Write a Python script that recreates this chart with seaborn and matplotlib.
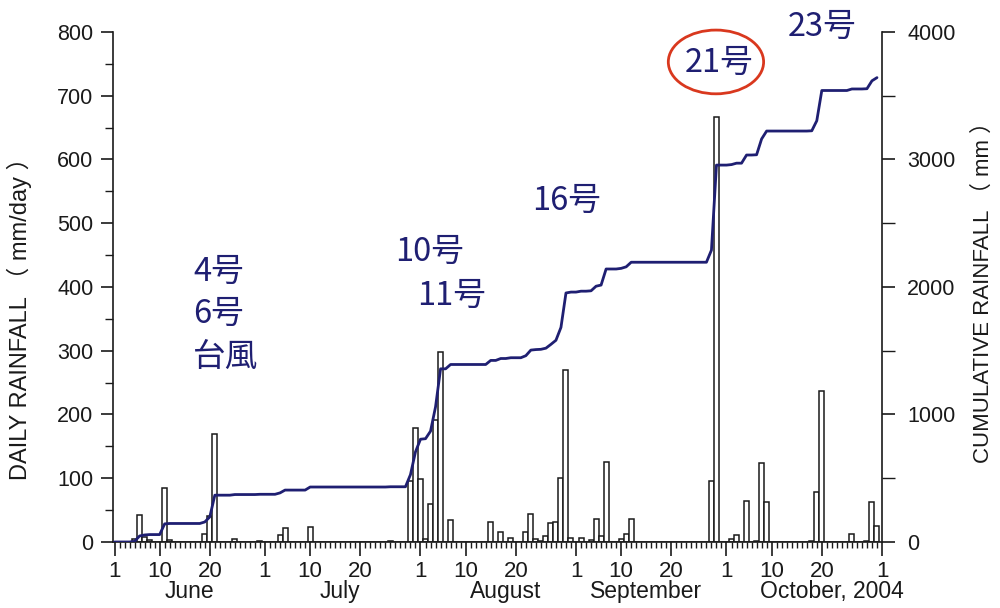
import numpy as np
import pandas as pd
import matplotlib
matplotlib.use("Agg")
import matplotlib.pyplot as plt
import matplotlib.transforms as mtransforms
from matplotlib.patches import Ellipse
from matplotlib.ticker import FixedLocator, MultipleLocator
import seaborn as sns

# Daily rainfall, June - October 2004 (days not listed had no rain), mm/day
rain_dates = [
    "2004-06-05", "2004-06-06", "2004-06-07", "2004-06-08", "2004-06-11", "2004-06-12",
    "2004-06-19", "2004-06-20", "2004-06-21", "2004-06-25", "2004-06-30",
    "2004-07-04", "2004-07-05", "2004-07-10", "2004-07-26", "2004-07-30", "2004-07-31",
    "2004-08-01", "2004-08-02", "2004-08-03", "2004-08-04", "2004-08-05", "2004-08-07",
    "2004-08-15", "2004-08-17", "2004-08-19", "2004-08-22", "2004-08-23", "2004-08-24",
    "2004-08-25", "2004-08-26", "2004-08-27", "2004-08-28", "2004-08-29", "2004-08-30",
    "2004-08-31", "2004-09-02", "2004-09-04", "2004-09-05", "2004-09-06", "2004-09-07",
    "2004-09-10", "2004-09-11", "2004-09-12", "2004-09-28", "2004-09-29",
    "2004-10-02", "2004-10-03", "2004-10-05", "2004-10-07", "2004-10-08", "2004-10-09",
    "2004-10-18", "2004-10-19", "2004-10-20", "2004-10-26", "2004-10-29", "2004-10-30",
    "2004-10-31",
]
rain_mm = [
    5, 42, 8, 3, 84, 3,
    12, 40, 170, 5, 2,
    11, 22, 24, 2, 95, 179,
    99, 4, 59, 191, 298, 34,
    32, 15, 6, 16, 44, 4,
    2, 9, 30, 32, 101, 270,
    7, 7, 3, 36, 9, 126,
    5, 12, 36, 95, 667,
    4, 11, 64, 2, 124, 62,
    2, 79, 237, 12, 2, 62,
    25,
]

period_start = "2004-06-01"
period_end = "2004-10-31"

tick_dates = [
    "2004-06-01", "2004-06-10", "2004-06-20", "2004-07-01", "2004-07-10", "2004-07-20",
    "2004-08-01", "2004-08-10", "2004-08-20", "2004-09-01", "2004-09-10", "2004-09-20",
    "2004-10-01", "2004-10-10", "2004-10-20", "2004-11-01",
]
tick_labels = ["1", "10", "20", "1", "10", "20", "1", "10", "20",
               "1", "10", "20", "1", "10", "20", "1"]

month_names = ["June", "July", "August", "September", "October, 2004"]
month_mid_dates = ["2004-06-16", "2004-07-16", "2004-08-18", "2004-09-15", "2004-10-22"]

typhoon_names = ["4号", "6号", "台風", "10号", "11号", "16号", "21号", "23号"]

# ---------------------------------------------------------------------------
days = pd.date_range(period_start, period_end, freq="D")
daily = pd.Series(0.0, index=days)
daily.loc[pd.to_datetime(rain_dates)] = rain_mm
df = pd.DataFrame({"day": np.arange(len(days)), "rain": daily.values})
df["cumulative"] = df["rain"].cumsum()


def day_of(d):
    return (pd.Timestamp(d) - days[0]).days


sns.set_style("ticks")
plt.rcParams["font.family"] = ["Liberation Sans", "Noto Sans CJK JP", "DejaVu Sans"]

ink = "#1a1a1a"
navy = "#1f1f72"

fig = plt.figure(figsize=(10, 6.08), dpi=100)
ax = fig.add_axes([0.113, 0.1086, 0.769, 0.8388])

sns.barplot(data=df, x="day", y="rain", ax=ax, color="white", saturation=1,
            edgecolor=ink, linewidth=1.1, width=1.0, errorbar=None, zorder=2)

ax2 = ax.twinx()
sns.lineplot(data=df, x="day", y="cumulative", ax=ax2, color=navy, linewidth=2.0)

# x axis: a tick per day, labelled on the 1st, 10th and 20th
ax.set_xlim(-0.3, day_of("2004-11-01"))
ax.xaxis.set_major_locator(FixedLocator([day_of(d) for d in tick_dates]))
ax.set_xticklabels(tick_labels)
ax.xaxis.set_minor_locator(FixedLocator(np.arange(0, day_of("2004-11-01") + 1)))
ax.tick_params(axis="x", which="major", length=10, width=1.2, labelsize=16,
               pad=4, colors=ink)
ax.tick_params(axis="x", which="minor", length=4, width=1.0, colors=ink)
ax.set_xlabel("")

ax.set_ylim(0, 800)
ax.yaxis.set_major_locator(MultipleLocator(100))
ax.yaxis.set_minor_locator(MultipleLocator(50))
ax.tick_params(axis="y", which="major", length=9, width=1.2, labelsize=15.5,
               pad=5, colors=ink)
ax.tick_params(axis="y", which="minor", length=6, width=1.0, colors=ink)

ax2.set_ylim(0, 4000)
ax2.yaxis.set_major_locator(MultipleLocator(1000))
ax2.yaxis.set_minor_locator(MultipleLocator(500))
ax2.tick_params(axis="y", which="major", length=9, width=1.2, labelsize=15.5,
                pad=9, colors=ink)
ax2.tick_params(axis="y", which="minor", length=9, width=1.0, colors=ink)
ax2.set_xlim(-0.3, day_of("2004-11-01"))

for side in ["top", "right"]:
    ax.spines[side].set_visible(False)
for side in ["top", "left", "bottom"]:
    ax2.spines[side].set_visible(False)
for a in (ax, ax2):
    for sp in a.spines.values():
        sp.set_linewidth(1.2)
        sp.set_color(ink)

ax.set_ylabel("DAILY RAINFALL （ mm/day ）", fontsize=17, color=ink)
ax.yaxis.set_label_coords(-0.105, 0.45)
ax2.set_ylabel("CUMULATIVE RAINFALL （ mm ）", fontsize=16, color=ink, rotation=90)
ax2.yaxis.set_label_coords(1.118, 0.5)

# month names under the day numbers
blend = mtransforms.blended_transform_factory(ax.transData, ax.transAxes)
for name, d in zip(month_names, month_mid_dates):
    ax.text(day_of(d), -0.098, name, transform=blend, ha="center", va="center",
            fontsize=16.5, color=ink)

# typhoon annotations
jp = {"family": ["Noto Sans CJK JP"], "fontsize": 23.5, "color": navy}
placements = [(15.7, 423), (15.7, 358), (15.7, 290), (55.9, 455), (60.4, 386),
              (83.3, 535), (113.6, 751), (134.2, 808)]
for name, (x, y) in zip(typhoon_names, placements):
    ax.text(x, y, name, ha="left", va="center", clip_on=False, zorder=5, **jp)

ax.add_patch(Ellipse((119.9, 753), width=19.0, height=100, fill=False,
                     edgecolor="#d9381e", linewidth=2.0, clip_on=False, zorder=5))

fig.savefig("out.png", dpi=100)
